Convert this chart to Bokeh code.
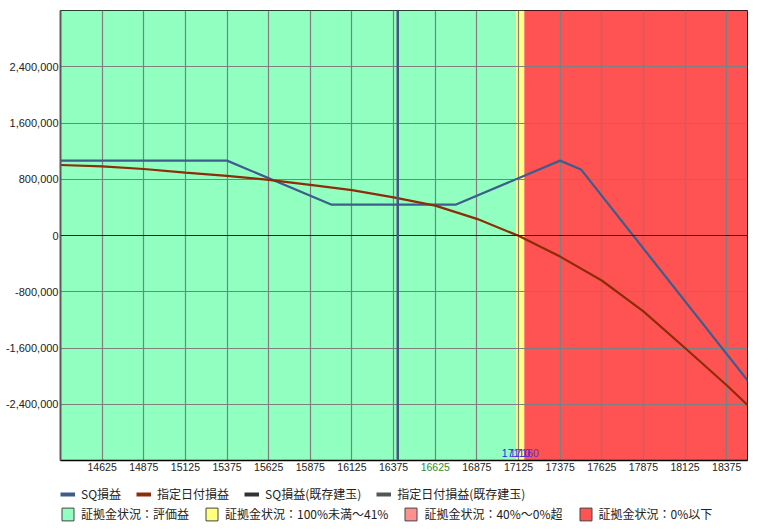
from bokeh.plotting import figure
from bokeh.layouts import column
from bokeh.models import (Range1d, FixedTicker, NumeralTickFormatter, Span, Legend, LegendItem,
                          LinearAxis)
from bokeh.core.properties import value
from bokeh.embed import file_html
from bokeh.resources import INLINE

# ---- data ----
x_start, x_end = 14375, 18500
y_start, y_end = -3200000, 3200000

x_ticks = [14625, 14875, 15125, 15375, 15625, 15875, 16125, 16375,
           16625, 16875, 17125, 17375, 17625, 17875, 18125, 18375]
y_ticks = [-2400000, -1600000, -800000, 0, 800000, 1600000, 2400000]

# SQ損益 (payoff at SQ)
sq_price = [14375, 15375, 16000, 16750, 17375, 17500, 18500]
sq_pl = [1065000, 1065000, 440000, 440000, 1065000, 940000, -2060000]

# 指定日付損益 (P/L at the given date)
date_price = [14375, 14625, 14875, 15125, 15375, 15625, 15875, 16125, 16375,
              16625, 16875, 17125, 17375, 17625, 17875, 18125, 18375, 18500]
date_pl = [1003000, 983000, 946000, 894000, 847000, 792000, 719000, 645000, 543000,
           425000, 237000, -5000, -300000, -640000, -1080000, -1600000, -2130000, -2411000]

# margin status zones
zone_labels = ["証拠金状況：評価益", "証拠金状況：100%未満～41%",
               "証拠金状況：40%～0%超", "証拠金状況：0%以下"]
zone_start = [[14375], [17110], [], [17160]]
zone_end = [[17110], [17160], [], [18500]]

boundary_values = [17110, 17160]
current_price = 16400
highlight_tick = 16625

line_labels = ["SQ損益", "指定日付損益", "SQ損益(既存建玉)", "指定日付損益(既存建玉)"]

# ---- styles ----
zone_colors = ["#90FFC0", "#FFFF80", "#FF9090", "#FF5252"]
line_colors = ["#3D5D8C", "#8E2C08", "#333333", "#555555"]
boundary_colors = ["#2A2AF0", "#6A2AD0"]
FONT = "Liberation Sans"
CJK = "Noto Sans CJK JP"

p = figure(frame_width=687, frame_height=450, output_backend="svg", toolbar_location=None,
           x_range=Range1d(x_start, x_end), y_range=Range1d(y_start, y_end),
           min_border_left=60, min_border_top=10, min_border_right=10, min_border_bottom=25)
p.background_fill_color = "white"
p.border_fill_color = "white"
p.outline_line_color = "black"
p.outline_line_width = 1

# zones
for i in range(4):
    p.quad(left=zone_start[i], right=zone_end[i], bottom=[y_start] * len(zone_start[i]),
           top=[y_end] * len(zone_start[i]), fill_color=zone_colors[i], line_alpha=0, level="image")

# axes
xax = p.xaxis[0]
yax = p.yaxis[0]
xax.ticker = FixedTicker(ticks=x_ticks)
yax.ticker = FixedTicker(ticks=y_ticks)
yax.formatter = NumeralTickFormatter(format="0,0")
xax.major_label_overrides = {highlight_tick: ""}
for ax, fs in ((xax, "10.5px"), (yax, "11px")):
    ax.major_tick_out = 0
    ax.major_tick_in = 0
    ax.minor_tick_out = 0
    ax.minor_tick_in = 0
    ax.major_label_standoff = 2
    ax.major_label_text_font = FONT
    ax.major_label_text_font_size = fs
    ax.major_label_text_color = "#222222"
xax.axis_line_color = "black"
xax.axis_line_width = 1.5
yax.axis_line_color = "#5A5A5A"
yax.axis_line_width = 2

# highlighted tick label (second axis, drawn on the same row)
hax = LinearAxis(ticker=FixedTicker(ticks=[highlight_tick]), major_label_standoff=-11,
                 axis_line_color=None, major_tick_out=0, major_tick_in=0,
                 minor_tick_out=0, minor_tick_in=0,
                 major_label_text_font=FONT, major_label_text_font_size="10.5px",
                 major_label_text_color="#2E8B2E")
p.add_layout(hax, "below")

p.grid.grid_line_color = "#7F7F7F"
p.grid.grid_line_width = 1.2
p.grid.grid_line_alpha = 1

# zero line and current price line
p.add_layout(Span(location=0, dimension="width", line_color="#222222", line_width=1))
p.add_layout(Span(location=current_price, dimension="height", line_color="#44557F", line_width=2.5))

# lines
p.line(sq_price, sq_pl, line_color=line_colors[0], line_width=2.2)
p.line(date_price, date_pl, line_color=line_colors[1], line_width=2.2)

# boundary labels
p.text(x=boundary_values, y=[y_start] * len(boundary_values),
       text=[str(v) for v in boundary_values], text_align="center", text_baseline="bottom",
       y_offset=-4, text_font=value(FONT), text_font_size="10.5px", text_color=boundary_colors)

# ---- legend panel ----
lg = figure(frame_width=687, frame_height=37, output_backend="svg", toolbar_location=None,
            x_range=Range1d(0, 1), y_range=Range1d(0, 1),
            x_axis_location=None, y_axis_location=None,
            min_border_left=60, min_border_top=0, min_border_right=10, min_border_bottom=0)
lg.outline_line_color = None
lg.background_fill_color = "white"
lg.border_fill_color = "white"
lg.grid.visible = False

# legend swatch renderers: placed outside the visible range of the legend panel
off = [-10, -9]
line_items = []
for lab, col in zip(line_labels, line_colors):
    r = lg.line(x=off, y=off, line_color=col, line_width=4)
    line_items.append(LegendItem(label=lab, renderers=[r]))
zone_items = []
for lab, col in zip(zone_labels, zone_colors):
    r = lg.quad(left=off[:1], right=off[1:], bottom=off[:1], top=off[1:],
                fill_color=col, line_color="#444444", line_width=1)
    zone_items.append(LegendItem(label=lab, renderers=[r]))

common = dict(orientation="horizontal", glyph_width=15, glyph_height=16, label_height=16,
              label_standoff=6, spacing=15, padding=0, margin=0,
              label_text_font=CJK, label_text_font_size="12px", label_text_color="#222222",
              border_line_alpha=0, background_fill_alpha=0)
leg1 = Legend(items=line_items, location="top_left", **common)
leg2 = Legend(items=zone_items, location="bottom_left", **common)
lg.add_layout(leg1)
lg.add_layout(leg2)

layout = column(p, lg, spacing=0)
open("out.html", "w").write(file_html(layout, INLINE))
